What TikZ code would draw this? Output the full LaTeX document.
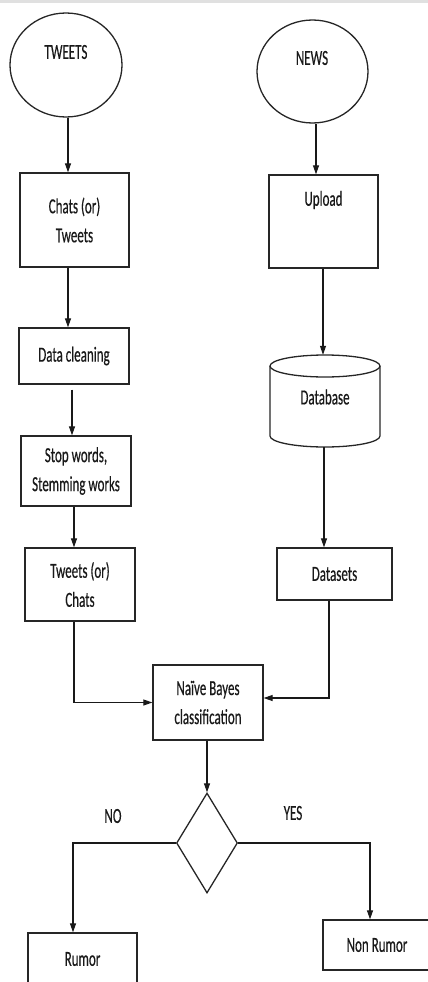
\documentclass[tikz,border=0pt]{standalone}
\usepackage{graphicx}
\usepackage{fontspec}
\setmainfont[FakeBold=0.6]{Carlito}
\usetikzlibrary{shapes.geometric,arrows.meta,calc}
\newcommand\vs[1]{\scalebox{1}[1.65]{#1}}
\tikzset{
  shp/.style={draw=black!85, line width=1.3pt, inner sep=0pt},
  boxn/.style={shp, rectangle, align=center, font=\fontsize{13}{29}\selectfont, text=black!90},
  ell/.style={shp, ellipse},
  txt/.style={inner sep=0pt, font=\fontsize{13}{29}\selectfont, text=black!90},
  conn/.style={draw=black!90, line width=1.1pt, -{Triangle[length=9pt,width=6pt]}}
}
\begin{document}
\begin{tikzpicture}[x=1pt,y=-1pt]
\useasboundingbox (0,0) rectangle (428,982);
\fill[black!12] (0,0) rectangle (428,3);
% left column
\node[ell, minimum width=112, minimum height=104] (tw) at (66,65) {};
\node[txt] (twt) at (66,52) {\vs{TWEETS}};
\node[boxn, minimum width=109, minimum height=94] (chats) at (74.5,220) {\vs{Chats (or)}\\\vs{Tweets}};
\node[boxn, minimum width=110, minimum height=56] (clean) at (74,356) {\vs{Data cleaning}};
\node[boxn, minimum width=110, minimum height=70] (stop) at (76,471) {\vs{Stop words,}\\\vs{Stemming works}};
\node[boxn, minimum width=110, minimum height=73] (tc) at (80,584.5) {\vs{Tweets (or)}\\\vs{Chats}};
% right column
\node[ell, minimum width=111, minimum height=103] (news) at (312.5,71.5) {};
\node[txt] (newst) at (312,58) {\vs{NEWS}};
\node[boxn, minimum width=109, minimum height=93] (up) at (323.5,221.5) {};
\node[txt] (upt) at (323.5,200) {\vs{Upload}};
\node[inner sep=0pt, minimum width=110, minimum height=92] (db) at (325,401) {};
\draw[shp] (325,366) ellipse [x radius=55, y radius=11];
\draw[shp] (270,366) -- (270,436) arc[start angle=180, end angle=360, x radius=55, y radius=-11] -- (380,366);
\node[txt] (dbt) at (325,397) {\vs{Database}};
\node[boxn, minimum width=115, minimum height=52] (ds) at (334.5,574) {\vs{Datasets}};
% classifier
\node[boxn, minimum width=110, minimum height=75] (nb) at (208,702.5) {\vs{Naïve Bayes}\\\vs{classification}};
\node[shp, diamond, minimum width=61, minimum height=100] (dia) at (207,843) {};
\node[txt] (no) at (113,816) {\vs{NO}};
\node[txt] (yes) at (293,813) {\vs{YES}};
\node[boxn, minimum width=109, minimum height=52] (rumor) at (82.5,959) {\vs{Rumor}};
\node[boxn, minimum width=108, minimum height=50] (nr) at (377,945) {\vs{Non Rumor}};
% connector start points
\coordinate (c1) at ($(tw.south)+(2,0)$);
\coordinate (c2) at ($(chats.south)+(-6.5,0)$);
\coordinate (c3) at ($(clean.south)+(-2,5)$);
\coordinate (c4) at ($(stop.south)+(-2,0)$);
\coordinate (c5) at ($(tc.south)+(-6,0)$);
\coordinate (c6) at ($(news.south)+(3.5,0)$);
\coordinate (c6b) at ($(up.south)+(-0.5,0)$);
\coordinate (c7) at ($(db.south)+(-1,0)$);
\coordinate (c8) at ($(ds.south)+(-5.5,0)$);
\coordinate (c9) at ($(nb.south)+(-1,0)$);
\coordinate (e8) at ($(nb.east)+(0,-4.5)$);
\coordinate (e10) at ($(rumor.north)+(-9.5,0)$);
\coordinate (e11) at ($(nr.north)+(-7,0)$);
% connectors
\draw[conn] (c1) -- (c1 |- chats.north);
\draw[conn] (c2) -- (c2 |- clean.north);
\draw[conn] (c3) -- (c3 |- stop.north);
\draw[conn] (c4) -- (c4 |- tc.north);
\draw[conn] (c5) |- (nb.west);
\draw[conn] (c6) -- (c6 |- up.north);
\draw[conn] (c6b) -- (c6b |- db.north);
\draw[conn] (c7) -- (c7 |- ds.north);
\draw[conn] (c8) |- (e8);
\draw[conn] (c9) -- (c9 |- dia.north);
\draw[conn] (dia.west) -| (e10);
\draw[conn] (dia.east) -| (e11);
\end{tikzpicture}
\end{document}
